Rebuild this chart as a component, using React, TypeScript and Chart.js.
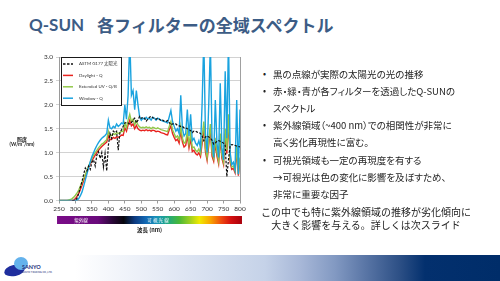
import React, { useEffect, useRef } from "react";
import { Chart, registerables } from "chart.js";

Chart.register(...registerables);

// ---------- data ----------
const wavelengths = [
  250, 255, 260, 265, 270, 275, 280, 285, 290, 295,
  300, 305, 310, 315, 320, 325, 330, 335, 340, 345,
  350, 355, 360, 365, 370, 375, 380, 385, 390, 395,
  400, 405, 410, 415, 420, 425, 430, 435, 440, 445,
  450, 455, 460, 465, 470, 475, 480, 485, 490, 495,
  500, 505, 510, 515, 520, 525, 530, 535, 540, 545,
  550, 555, 560, 565, 570, 575, 580, 585, 590, 595,
  600, 605, 610, 615, 620, 625, 630, 635, 640, 645,
  650, 655, 660, 665, 670, 675, 680, 685, 690, 695,
  700, 705, 710, 715, 720, 725, 730, 735, 740, 745,
  750, 755, 760, 765, 770, 775, 780, 785, 790, 795,
  800,
];

const solarASTM = [
  null, null, null, null, null, null, null, null, 0, 0,
  0.01, 0.05, 0.15, 0.28, 0.4, 0.55, 0.68, 0.62, 0.72, 0.65,
  0.8, 0.85, 0.72, 0.95, 1.02, 0.88, 1.0, 0.7, 0.98, 0.62,
  1.15, 1.4, 1.3, 1.45, 1.42, 1.45, 1.05, 1.42, 1.48, 1.55,
  1.62, 1.63, 1.62, 1.6, 1.63, 1.68, 1.72, 1.62, 1.68, 1.76,
  1.72, 1.74, 1.72, 1.66, 1.7, 1.74, 1.76, 1.73, 1.72, 1.7,
  1.72, 1.7, 1.67, 1.68, 1.66, 1.65, 1.67, 1.63, 1.58, 1.6,
  1.6, 1.6, 1.57, 1.56, 1.55, 1.55, 1.52, 1.52, 1.5, 1.49,
  1.46, 1.42, 1.45, 1.45, 1.43, 1.42, 1.4, 1.35, 1.25, 1.33,
  1.35, 1.33, 1.3, 1.26, 1.18, 1.2, 1.24, 1.25, 1.24, 1.22,
  1.2, 1.15, 0.5, 0.85, 1.15, 1.17, 1.16, 1.15, 1.14, 1.13,
  1.12,
];

const daylightQ = [
  0, 0, 0, 0, 0, 0, 0, 0, 0, 0.01,
  0.04, 0.09, 0.15, 0.23, 0.32, 0.42, 0.52, 0.61, 0.69, 0.76,
  0.83, 0.89, 0.95, 1.0, 1.05, 1.09, 1.13, 1.16, 1.19, 1.22,
  1.35, 1.27, 1.28, 1.32, 1.3, 1.33, 1.32, 1.34, 1.37, 1.36,
  1.52, 1.45, 1.58, 1.68, 1.56, 1.6, 1.5, 1.57, 1.5, 1.47,
  1.46, 1.47, 1.46, 1.48, 1.46, 1.47, 1.45, 1.47, 1.46, 1.44,
  1.45, 1.44, 1.42, 1.41, 1.4, 1.38, 1.37, 1.48, 1.56, 1.4,
  1.32, 1.25, 1.28, 1.2, 1.45, 1.22, 1.12, 1.15, 1.35, 1.1,
  1.3, 1.02, 1.05, 0.98, 0.95, 1.0, 0.92, 1.2, 1.55, 1.02,
  0.84, 1.15, 1.5, 0.93, 0.82, 1.2, 0.93, 0.77, 1.3, 0.88,
  0.75, 1.4, 0.98, 1.7, 0.8, 0.65, 0.67, 0.58, 1.05, 0.52,
  0.85,
];

const extendedUVQB = [
  0, 0, 0, 0, 0, 0, 0.01, 0.02, 0.04, 0.07,
  0.11, 0.16, 0.22, 0.3, 0.38, 0.46, 0.55, 0.63, 0.72, 0.8,
  0.88, 0.95, 1.0, 1.05, 1.1, 1.14, 1.18, 1.2, 1.24, 1.27,
  1.45, 1.35, 1.36, 1.4, 1.38, 1.42, 1.4, 1.42, 1.45, 1.44,
  1.62, 1.52, 1.68, 1.8, 1.65, 1.7, 1.58, 1.66, 1.58, 1.54,
  1.52, 1.53, 1.52, 1.54, 1.52, 1.53, 1.5, 1.53, 1.52, 1.5,
  1.52, 1.5, 1.48, 1.47, 1.46, 1.45, 1.44, 1.55, 1.65, 1.48,
  1.4, 1.32, 1.35, 1.28, 1.55, 1.3, 1.2, 1.22, 1.45, 1.18,
  1.4, 1.1, 1.12, 1.05, 1.02, 1.08, 0.98, 1.3, 1.65, 1.1,
  0.9, 1.25, 1.6, 1.0, 0.88, 1.3, 1.0, 0.82, 1.4, 0.95,
  0.8, 1.5, 1.05, 1.8, 0.85, 0.7, 0.72, 0.62, 1.15, 0.55,
  0.9,
];

const windowQ = [
  0, 0, 0, 0, 0, 0, 0, 0, 0, 0,
  0, 0.01, 0.04, 0.1, 0.18, 0.3, 0.43, 0.56, 0.69, 0.81,
  0.92, 1.0, 1.08, 1.15, 1.21, 1.26, 1.3, 1.33, 1.36, 1.4,
  1.68, 1.52, 1.5, 1.55, 1.52, 1.6, 1.55, 1.58, 1.62, 1.6,
  2.0, 1.7, 2.2, 3.4, 2.2, 2.3, 1.9, 2.3, 2.0, 1.75,
  1.68, 1.72, 1.7, 1.74, 1.7, 1.72, 1.68, 1.74, 1.72, 1.68,
  1.72, 1.7, 1.68, 1.66, 1.65, 1.64, 1.62, 1.75, 1.88, 1.65,
  1.55, 1.45, 1.5, 1.4, 2.2, 1.5, 1.35, 1.4, 1.9, 1.35,
  1.8, 1.25, 1.3, 1.2, 1.15, 1.25, 1.1, 2.05, 3.4, 1.4,
  1.0, 2.0, 3.3, 1.3, 0.9, 2.1, 1.2, 0.9, 2.45, 1.1,
  0.85, 2.7, 1.3, 3.4, 1.0, 0.75, 0.8, 0.65, 2.1, 0.55,
  1.9,
];

const seriesLabels = ["ASTM G177 太陽光", "Daylight - Q", "Extended UV - Q/B", "Window - Q"];
const seriesColors = ["#111111", "#e8231f", "#92c84a", "#1aa3df"];

const titleLatin = "Q-SUN";
const titleJa = "各フィルターの全域スペクトル";
const xTitle = "波長 (nm)";
const yTitleLines = ["照度", "(W/m²/nm)"];
const bandLabels = ["紫外線", "可 視 光 線"];

const bullets = [
  { bullet: true, text: "黒の点線が実際の太陽光の光の推移" },
  { bullet: true, text: "赤・緑・青が各フィルターを透過したQ-SUNの" },
  { bullet: false, text: "スペクトル" },
  { bullet: true, text: "紫外線領域（~400 nm）での相関性が非常に" },
  { bullet: false, text: "高く劣化再現性に富む。" },
  { bullet: true, text: "可視光領域も一定の再現度を有する" },
  { bullet: false, text: "→可視光は色の変化に影響を及ぼすため、" },
  { bullet: false, text: "非常に重要な因子" },
];
const summary = [
  "この中でも特に紫外線領域の推移が劣化傾向に",
  "大きく影響を与える。詳しくは次スライド",
];

// ---------- plugins ----------
const framePlugin = {
  id: "frame",
  beforeDatasetsDraw(chart: any) {
    const { ctx, chartArea: a } = chart;
    ctx.save();
    ctx.strokeStyle = "#a0a0a0";
    ctx.lineWidth = 1;
    const x = Math.round(a.right) + 0.5;
    ctx.beginPath();
    ctx.moveTo(x, a.top);
    ctx.lineTo(x, a.bottom);
    ctx.stroke();
    ctx.restore();
  },
};

const boxLegendPlugin = {
  id: "boxLegend",
  afterDraw(chart: any) {
    const { ctx, chartArea: a } = chart;
    const left = Math.round(a.left) + 2;
    const top = Math.round(a.top);
    const w = 61;
    const h = 49;
    ctx.save();
    ctx.fillStyle = "#ffffff";
    ctx.fillRect(left, top, w, h);
    ctx.strokeStyle = "#1a1a1a";
    ctx.lineWidth = 1;
    ctx.strokeRect(left + 0.5, top + 0.5, w - 1, h - 1);
    chart.data.datasets.forEach((ds: any, i: number) => {
      const y = top + 7 + i * 11.4;
      ctx.strokeStyle = ds.borderColor;
      ctx.lineWidth = 1.5;
      ctx.setLineDash(ds.borderDash || []);
      ctx.beginPath();
      ctx.moveTo(left + 2, y);
      ctx.lineTo(left + 12, y);
      ctx.stroke();
      ctx.setLineDash([]);
      ctx.fillStyle = "#333333";
      ctx.font = '4.4px Lato, "Noto Sans CJK JP"';
      ctx.textBaseline = "middle";
      ctx.textAlign = "left";
      ctx.fillText(ds.label, left + 18, y);
    });
    ctx.restore();
  },
};

const sideTitlePlugin = {
  id: "sideTitle",
  afterDraw(chart: any) {
    const { ctx, chartArea: a } = chart;
    ctx.save();
    ctx.fillStyle = "#222222";
    ctx.font = 'bold 5px Lato, "Noto Sans CJK JP"';
    ctx.textAlign = "center";
    ctx.textBaseline = "middle";
    const cx = a.left - 37;
    const cy = a.top + 82;
    yTitleLines.forEach((t, i) => ctx.fillText(t, cx, cy + i * 5.5));
    ctx.restore();
  },
};

const spectrumBarPlugin = {
  id: "spectrumBar",
  afterDraw(chart: any) {
    const { ctx, chartArea: a, scales } = chart;
    const xs = scales.x;
    const x0 = xs.getPixelForValue(244);
    const x1 = xs.getPixelForValue(806);
    const y0 = a.bottom + 15.5;
    const h = 8;
    const g = ctx.createLinearGradient(x0, 0, x1, 0);
    const stops: [number, string][] = [
      [0, "#7a0c88"], [0.22, "#6a0a7c"], [0.3, "#2a0838"], [0.36, "#06060c"],
      [0.42, "#0c3a80"], [0.48, "#1268b4"], [0.54, "#1894b8"], [0.6, "#20a880"],
      [0.66, "#48b838"], [0.72, "#a0d020"], [0.77, "#f0ea00"], [0.83, "#f8a400"],
      [0.89, "#ee4810"], [0.94, "#d41010"], [1, "#a8000c"],
    ];
    stops.forEach(([o, c]) => g.addColorStop(o, c));
    ctx.save();
    ctx.fillStyle = g;
    ctx.fillRect(x0, y0, x1 - x0, h);
    ctx.fillStyle = "#ffffff";
    ctx.font = '4.6px "Noto Sans CJK JP"';
    ctx.textAlign = "center";
    ctx.textBaseline = "middle";
    ctx.fillText(bandLabels[0], x0 + 24, y0 + h / 2);
    ctx.fillText(bandLabels[1], x0 + 101, y0 + h / 2);
    ctx.restore();
  },
};

function SpectrumChart() {
  const ref = useRef<HTMLCanvasElement>(null);
  useEffect(() => {
    const pts = (vals: (number | null)[]) => wavelengths.map((w, i) => ({ x: w, y: vals[i] }));
    const all = [solarASTM, daylightQ, extendedUVQB, windowQ];
    const orders = [0, 3, 2, 1];
    const chart = new Chart(ref.current as HTMLCanvasElement, {
      type: "line",
      data: {
        datasets: all.map((vals, i) => ({
          label: seriesLabels[i],
          data: pts(vals),
          borderColor: seriesColors[i],
          backgroundColor: seriesColors[i],
          borderWidth: i === 0 ? 1.2 : 1.4,
          borderDash: i === 0 ? [2.5, 1.5] : [],
          pointRadius: 0,
          tension: 0,
          order: orders[i],
        })) as any,
      },
      options: {
        animation: false,
        responsive: false,
        maintainAspectRatio: false,
        layout: { padding: { top: 7, right: 10, left: 0, bottom: 0 } },
        plugins: { legend: { display: false }, tooltip: { enabled: false } },
        scales: {
          x: {
            type: "linear",
            min: 250,
            max: 800,
            ticks: {
              stepSize: 50,
              autoSkip: false,
              maxRotation: 0,
              padding: 2,
              color: "#333333",
              font: { size: 6.5, family: "Lato" },
            },
            grid: { drawOnChartArea: false, tickLength: 3, color: "#9a9a9a" },
            border: { color: "#9a9a9a" },
            title: {
              display: true,
              text: xTitle,
              color: "#222222",
              font: { size: 5.5, weight: "bold", family: '"Noto Sans CJK JP"' },
              padding: { top: 0, bottom: 7 },
            },
            afterFit: (s: any) => {
              s.height = 39.5;
            },
          },
          y: {
            min: 0,
            max: 3,
            ticks: {
              stepSize: 0.5,
              padding: 3,
              color: "#333333",
              font: { size: 6.5, family: "Lato" },
              callback: (v: any) => Number(v).toFixed(1),
            },
            grid: { color: "#c6c6c6", lineWidth: 0.8, tickLength: 3 },
            border: { color: "#9a9a9a" },
            afterFit: (s: any) => {
              s.width = 59;
            },
          },
        },
      } as any,
      plugins: [framePlugin, boxLegendPlugin, sideTitlePlugin, spectrumBarPlugin],
    });
    return () => chart.destroy();
  }, []);
  return (
    <canvas
      ref={ref}
      width={250}
      height={190}
      style={{ position: "absolute", left: 0, top: 50, width: 250, height: 190, display: "block" }}
    />
  );
}

export default function App() {
  const jp = '"Noto Sans CJK JP", sans-serif';
  return (
    <div
      style={{
        position: "absolute",
        left: 0,
        top: 0,
        width: 500,
        height: 281,
        overflow: "hidden",
        background: "#ffffff",
      }}
    >
      {/* title */}
      <div
        style={{
          position: "absolute",
          left: 29,
          top: 14,
          fontFamily: 'Lato, "Noto Sans CJK JP"',
          fontWeight: 700,
          fontSize: 17,
          lineHeight: "22px",
          color: "#3c5c85",
          whiteSpace: "nowrap",
        }}
      >
        {titleLatin}
      </div>
      <div
        style={{
          position: "absolute",
          left: 97,
          top: 14,
          fontFamily: jp,
          fontWeight: 700,
          fontSize: 17,
          lineHeight: "22px",
          color: "#3c5c85",
          whiteSpace: "nowrap",
        }}
      >
        {titleJa}
      </div>

      <SpectrumChart />

      {/* bullets */}
      {bullets.map((b, i) => (
        <React.Fragment key={i}>
          {b.bullet && (
            <div
              style={{
                position: "absolute",
                left: 263,
                top: 73.5 + i * 17.2 - 8,
                height: 16,
                lineHeight: "16px",
                fontSize: 9,
                fontFamily: jp,
                color: "#222",
              }}
            >
              •
            </div>
          )}
          <div
            style={{
              position: "absolute",
              left: 273,
              top: 73.5 + i * 17.2 - 8,
              height: 16,
              lineHeight: "16px",
              fontSize: 9.5,
              fontFamily: jp,
              fontFeatureSettings: '"palt"',
              color: "#1e1e1e",
              whiteSpace: "nowrap",
            }}
          >
            {b.text}
          </div>
        </React.Fragment>
      ))}
      {summary.map((t, i) => (
        <div
          key={"s" + i}
          style={{
            position: "absolute",
            left: 246,
            width: 240,
            top: 212 + i * 13 - 7,
            height: 14,
            lineHeight: "14px",
            textAlign: "center",
            fontSize: 10,
            fontFamily: jp,
            color: "#1e1e1e",
            whiteSpace: "nowrap",
          }}
        >
          {t}
        </div>
      ))}

      {/* bottom band */}
      <div
        style={{
          position: "absolute",
          left: 0,
          top: 255,
          width: 500,
          height: 26,
          background:
            "linear-gradient(to right, #ffffff 0%, #ffffff 15%, #e4eaf5 33%, #c5d2e8 53%, #a8b8d8 60%, #8299c2 67%, #5a76a6 73%, #2c4f85 80%, #03306e 85%, #002d69 100%)",
        }}
      />
      {/* logo */}
      <div
        style={{
          position: "absolute",
          left: 4,
          top: 265,
          width: 21,
          height: 11,
          borderRadius: "50%",
          background: "#1f2e9e",
          transform: "rotate(-12deg)",
        }}
      />
      <div
        style={{
          position: "absolute",
          left: 14,
          top: 257,
          width: 14,
          height: 13,
          borderRadius: "50%",
          background: "#64b2ec",
        }}
      />
      <div
        style={{
          position: "absolute",
          left: 22,
          top: 264,
          fontSize: 5.5,
          lineHeight: "6px",
          fontFamily: "Lato",
          fontWeight: 700,
          color: "#23307a",
        }}
      >
        SANYO
      </div>
      <div
        style={{
          position: "absolute",
          left: 22,
          top: 271,
          fontSize: 2.6,
          lineHeight: "3px",
          fontFamily: jp,
          color: "#23307a",
          whiteSpace: "nowrap",
        }}
      >
        SANYO TRADING CO.,LTD.
      </div>
    </div>
  );
}
